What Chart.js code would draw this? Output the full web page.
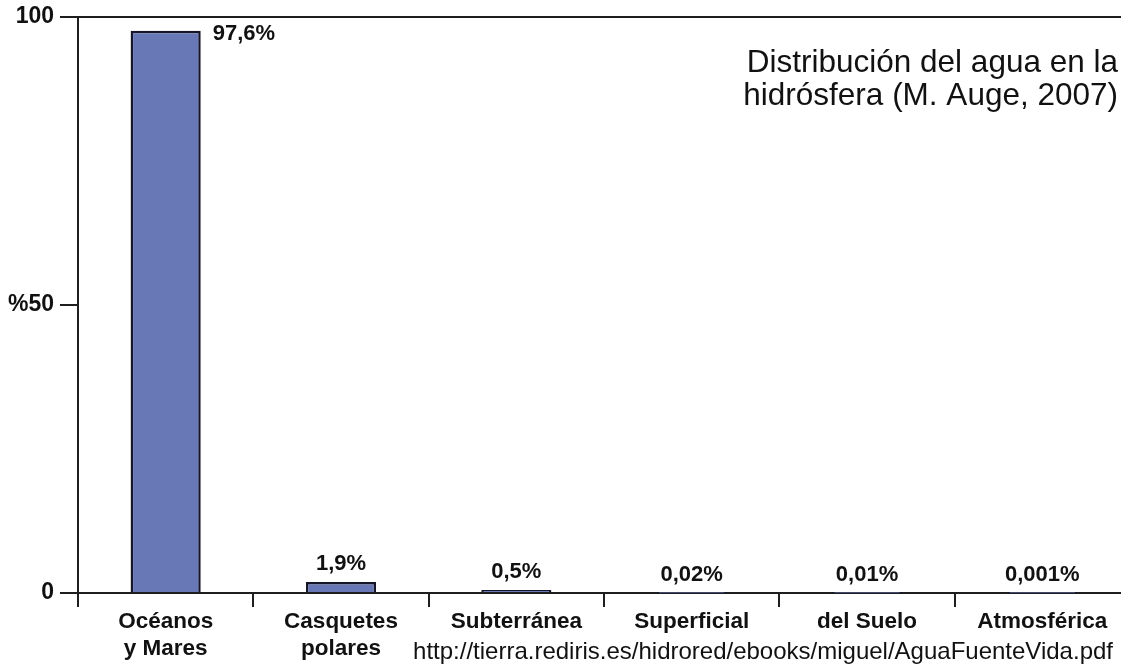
<!DOCTYPE html>
<html>
<head>
<meta charset="utf-8">
<script src="https://cdn.jsdelivr.net/npm/chart.js@4"></script>
<style>
  html, body { margin: 0; padding: 0; background: #fff; overflow: hidden; }
  #wrap { width: 1130px; height: 665px; position: relative; }
</style>
</head>
<body>
<div id="wrap"><canvas id="aguaChart"></canvas></div>
<script>
const categories = [['Océanos', 'y Mares'], ['Casquetes', 'polares'], 'Subterránea', 'Superficial', 'del Suelo', 'Atmosférica'];
const percentages = [97.6, 1.9, 0.5, 0.02, 0.01, 0.001];
const yTicks = [0, 50, 100];
const titleLines = ['Distribución del agua en la', 'hidrósfera (M. Auge, 2007)'];
const sourceUrl = 'http://tierra.rediris.es/hidrored/ebooks/miguel/AguaFuenteVida.pdf';

const axisColor = '#1e1e1e';
const boldFont = '"Liberation Sans", Arial, sans-serif';

function fmtPct(v) {
  return String(v).replace('.', ',') + '%';
}

// value labels + title + source text
const annotations = {
  id: 'annotations',
  afterDatasetsDraw(chart) {
    const ctx = chart.ctx;
    const meta = chart.getDatasetMeta(0);
    ctx.save();
    ctx.fillStyle = '#111';
    ctx.font = 'bold 22px ' + boldFont;
    meta.data.forEach((bar, i) => {
      const txt = fmtPct(percentages[i]);
      ctx.textBaseline = 'middle';
      if (i === 0) {
        ctx.textAlign = 'left';
        ctx.fillText(txt, bar.x + bar.width / 2 + 12, bar.y + 3);
      } else {
        ctx.textAlign = 'center';
        ctx.fillText(txt, bar.x, bar.y - 18);
      }
    });

    ctx.font = '31.5px "Liberation Sans", Arial, sans-serif';
    ctx.textAlign = 'right';
    ctx.textBaseline = 'alphabetic';
    ctx.fillText(titleLines[0], 1118, 72);
    ctx.fillText(titleLines[1], 1118, 105);

    ctx.font = '24px "Liberation Sans", Arial, sans-serif';
    ctx.fillText(sourceUrl, 1113, 659);
    ctx.restore();
  }
};

new Chart(document.getElementById('aguaChart'), {
  type: 'bar',
  data: {
    labels: categories,
    datasets: [{
      data: percentages,
      backgroundColor: '#6878b6',
      borderColor: '#15152a',
      borderWidth: 2.5,
      borderSkipped: 'bottom',
      categoryPercentage: 1,
      barPercentage: 0.4
    }]
  },
  options: {
    responsive: true,
    maintainAspectRatio: false,
    animation: false,
    layout: { padding: { top: 17, right: 0, left: 0, bottom: 0 } },
    plugins: {
      legend: { display: false },
      tooltip: { enabled: false }
    },
    scales: {
      x: {
        offset: true,
        grid: {
          offset: true,
          drawOnChartArea: false,
          color: axisColor,
          lineWidth: 2,
          tickLength: 14
        },
        border: { color: axisColor, width: 2 },
        ticks: {
          color: '#111',
          padding: 1,
          maxRotation: 0,
          autoSkip: false,
          font: { family: boldFont, size: 22.5, weight: 'bold', lineHeight: 1.2 }
        },
        afterFit(scale) { scale.height = 72; }
      },
      y: {
        min: 0,
        max: 100,
        afterBuildTicks(scale) { scale.ticks = yTicks.map(v => ({ value: v })); },
        grid: {
          color: c => (c.tick && c.tick.value === 50) ? 'rgba(0,0,0,0)' : axisColor,
          tickColor: axisColor,
          lineWidth: 2,
          tickLength: 18
        },
        border: { color: axisColor, width: 2 },
        ticks: {
          color: '#111',
          padding: 6,
          font: { family: boldFont, size: 23, weight: 'bold', lineHeight: 0.8 },
          callback: v => v === 50 ? '%50' : String(v)
        },
        afterFit(scale) { scale.width = 78; }
      }
    }
  },
  plugins: [annotations]
});
</script>
</body>
</html>
